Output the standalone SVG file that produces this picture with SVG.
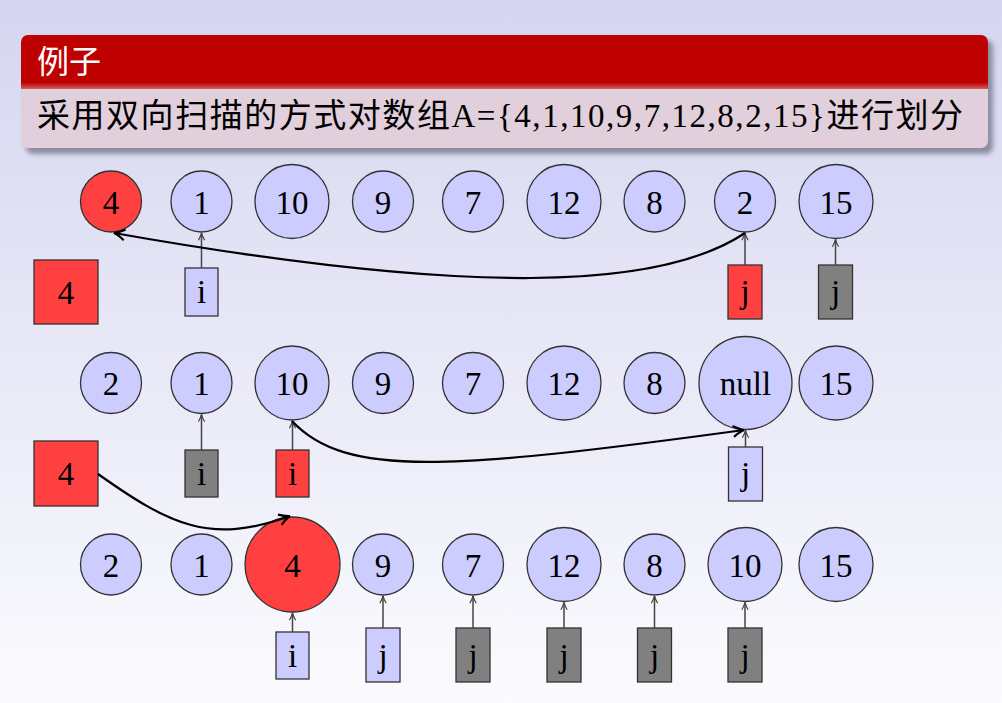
<svg xmlns="http://www.w3.org/2000/svg" width="1002" height="703" viewBox="0 0 1002 703">
<defs>
<linearGradient id="bg" x1="0" y1="0" x2="0" y2="1">
<stop offset="0" stop-color="#d5d5f0"/>
<stop offset="1" stop-color="#fbfbfe"/>
</linearGradient>
<linearGradient id="hd" x1="0" y1="0" x2="0" y2="1">
<stop offset="0" stop-color="#bf0000"/>
<stop offset="0.88" stop-color="#bf0000"/>
<stop offset="1" stop-color="#cf6060"/>
</linearGradient>
<filter id="sh" x="-5%" y="-20%" width="110%" height="140%">
<feGaussianBlur stdDeviation="2.5"/>
</filter>
<marker id="sa" viewBox="0 0 10 10" refX="9" refY="5" markerWidth="9" markerHeight="9" markerUnits="userSpaceOnUse" orient="auto">
<path d="M1,1.5 Q5,4 9,5 Q5,6 1,8.5" fill="none" stroke="#444" stroke-width="1.3"/>
</marker>
<marker id="ba" viewBox="0 0 12 12" refX="11" refY="6" markerWidth="13" markerHeight="13" markerUnits="userSpaceOnUse" orient="auto">
<path d="M1,1 Q7,5 11,6 Q7,7 1,11" fill="none" stroke="#000" stroke-width="2"/>
</marker>
</defs>
<style>
text{font-family:"Liberation Serif","Noto Sans CJK SC",serif;}
.n{font-size:33px;text-anchor:middle;fill:#000;}
.b{fill:#ccccff;stroke:#333;stroke-width:1.3;}
.r{fill:#ff4040;stroke:#333;stroke-width:1.3;}
.g{fill:#808080;stroke:#333;stroke-width:1.3;}
.sl{stroke:#444;stroke-width:1.5;fill:none;marker-end:url(#sa);}
.bl{stroke:#000;stroke-width:2.2;fill:none;marker-end:url(#ba);}
</style>
<rect width="1002" height="703" fill="url(#bg)"/>
<g id="header">
<rect x="26" y="40" width="967" height="114" rx="7" fill="#6a6a80" opacity="0.7" filter="url(#sh)"/>
<rect x="21" y="35" width="967" height="113" rx="7" fill="#e1cfdc"/>
<path d="M21,89 L21,42 A7,7 0 0 1 28,35 L981,35 A7,7 0 0 1 988,42 L988,89 Z" fill="url(#hd)"/>
<text x="37" y="73" style="font-size:32px;fill:#fff;">例子</text>
<text x="37" y="127" style="font-size:33px;fill:#000;" textLength="926" lengthAdjust="spacing">采用双向扫描的方式对数组A={4,1,10,9,7,12,8,2,15}进行划分</text>
</g>

<g id="row1">
<g id="r1c0"><circle cx="111" cy="201.5" r="30.5" class="r"/><text x="111" y="213.5" class="n">4</text></g>
<g id="r1c1"><circle cx="201.5" cy="201.5" r="30.5" class="b"/><text x="201.5" y="213.5" class="n">1</text></g>
<g id="r1c2"><circle cx="292" cy="201.5" r="37" class="b"/><text x="292" y="213.5" class="n">10</text></g>
<g id="r1c3"><circle cx="383" cy="201.5" r="30.5" class="b"/><text x="383" y="213.5" class="n">9</text></g>
<g id="r1c4"><circle cx="473" cy="201.5" r="30.5" class="b"/><text x="473" y="213.5" class="n">7</text></g>
<g id="r1c5"><circle cx="564" cy="201.5" r="37" class="b"/><text x="564" y="213.5" class="n">12</text></g>
<g id="r1c6"><circle cx="654.5" cy="201.5" r="30.5" class="b"/><text x="654.5" y="213.5" class="n">8</text></g>
<g id="r1c7"><circle cx="745" cy="201.5" r="30.5" class="b"/><text x="745" y="213.5" class="n">2</text></g>
<g id="r1c8"><circle cx="836" cy="201.5" r="37" class="b"/><text x="836" y="213.5" class="n">15</text></g>
<g id="r1pivot"><rect x="34" y="260" width="64" height="64" class="r"/><text x="66" y="304" class="n">4</text></g>
<g id="r1i"><rect x="185" y="268" width="33" height="48" class="b"/><text x="201.5" y="303" class="n">i</text></g>
<g id="r1j"><rect x="728" y="265" width="34" height="54" class="r"/><text x="745" y="303" class="n">j</text></g>
<g id="r1j2"><rect x="818.5" y="265" width="34" height="54" class="g"/><text x="835.5" y="303" class="n">j</text></g>
</g>

<g id="row2">
<g id="r2c0"><circle cx="111" cy="383" r="30.5" class="b"/><text x="111" y="395" class="n">2</text></g>
<g id="r2c1"><circle cx="201.5" cy="383" r="30.5" class="b"/><text x="201.5" y="395" class="n">1</text></g>
<g id="r2c2"><circle cx="292" cy="383" r="37" class="b"/><text x="292" y="395" class="n">10</text></g>
<g id="r2c3"><circle cx="383" cy="383" r="30.5" class="b"/><text x="383" y="395" class="n">9</text></g>
<g id="r2c4"><circle cx="473" cy="383" r="30.5" class="b"/><text x="473" y="395" class="n">7</text></g>
<g id="r2c5"><circle cx="564" cy="383" r="37" class="b"/><text x="564" y="395" class="n">12</text></g>
<g id="r2c6"><circle cx="654.5" cy="383" r="30.5" class="b"/><text x="654.5" y="395" class="n">8</text></g>
<g id="r2c7"><circle cx="745.5" cy="383" r="46.5" class="b"/><text x="745.5" y="395" class="n">null</text></g>
<g id="r2c8"><circle cx="836" cy="383" r="37" class="b"/><text x="836" y="395" class="n">15</text></g>
<g id="r2pivot"><rect x="34" y="441" width="64" height="65" class="r"/><text x="66" y="485" class="n">4</text></g>
<g id="r2i"><rect x="185" y="450" width="33" height="47" class="g"/><text x="201.5" y="485" class="n">i</text></g>
<g id="r2i2"><rect x="276" y="450" width="33" height="47" class="r"/><text x="292.5" y="485" class="n">i</text></g>
<g id="r2j"><rect x="728.5" y="447" width="34" height="54" class="b"/><text x="745.5" y="485" class="n">j</text></g>
</g>

<g id="row3">
<g id="r3c0"><circle cx="111" cy="564.5" r="30.5" class="b"/><text x="111" y="576.5" class="n">2</text></g>
<g id="r3c1"><circle cx="201.5" cy="564.5" r="30.5" class="b"/><text x="201.5" y="576.5" class="n">1</text></g>
<g id="r3c2"><circle cx="292.5" cy="564.5" r="47.5" class="r"/><text x="292.5" y="576.5" class="n">4</text></g>
<g id="r3c3"><circle cx="383" cy="564.5" r="30.5" class="b"/><text x="383" y="576.5" class="n">9</text></g>
<g id="r3c4"><circle cx="473" cy="564.5" r="30.5" class="b"/><text x="473" y="576.5" class="n">7</text></g>
<g id="r3c5"><circle cx="564" cy="564.5" r="37" class="b"/><text x="564" y="576.5" class="n">12</text></g>
<g id="r3c6"><circle cx="654.5" cy="564.5" r="30.5" class="b"/><text x="654.5" y="576.5" class="n">8</text></g>
<g id="r3c7"><circle cx="745" cy="564.5" r="37" class="b"/><text x="745" y="576.5" class="n">10</text></g>
<g id="r3c8"><circle cx="836" cy="564.5" r="37" class="b"/><text x="836" y="576.5" class="n">15</text></g>
<g id="r3i"><rect x="276" y="632" width="33" height="47" class="b"/><text x="292.5" y="667" class="n">i</text></g>
<g id="r3j1"><rect x="366" y="628" width="34" height="54" class="b"/><text x="383" y="667" class="n">j</text></g>
<g id="r3j2"><rect x="456" y="628" width="34" height="54" class="g"/><text x="473" y="667" class="n">j</text></g>
<g id="r3j3"><rect x="547" y="628" width="34" height="54" class="g"/><text x="564" y="667" class="n">j</text></g>
<g id="r3j4"><rect x="637.5" y="628" width="34" height="54" class="g"/><text x="654.5" y="667" class="n">j</text></g>
<g id="r3j5"><rect x="728" y="628" width="34" height="54" class="g"/><text x="745" y="667" class="n">j</text></g>
</g>

<g id="connectors">
<line x1="201.5" y1="268" x2="201.5" y2="233" class="sl"/>
<line x1="745" y1="265" x2="745" y2="233" class="sl"/>
<line x1="835.5" y1="265" x2="835.5" y2="239.5" class="sl"/>
<line x1="201.5" y1="450" x2="201.5" y2="414.5" class="sl"/>
<line x1="292.5" y1="450" x2="292.5" y2="421" class="sl"/>
<line x1="745.5" y1="447" x2="745.5" y2="430.5" class="sl"/>
<line x1="292.5" y1="632" x2="292.5" y2="613" class="sl"/>
<line x1="383" y1="628" x2="383" y2="596" class="sl"/>
<line x1="473" y1="628" x2="473" y2="596" class="sl"/>
<line x1="564" y1="628" x2="564" y2="602.5" class="sl"/>
<line x1="654.5" y1="628" x2="654.5" y2="596" class="sl"/>
<line x1="745" y1="628" x2="745" y2="602.5" class="sl"/>
<path d="M745,233 C660,290 470,296 114,233" class="bl"/>
<path d="M292,421 C345,478 450,470 744,430" class="bl"/>
<path d="M98,474 C170,525 210,545 290,516" class="bl"/>
</g>
</svg>
